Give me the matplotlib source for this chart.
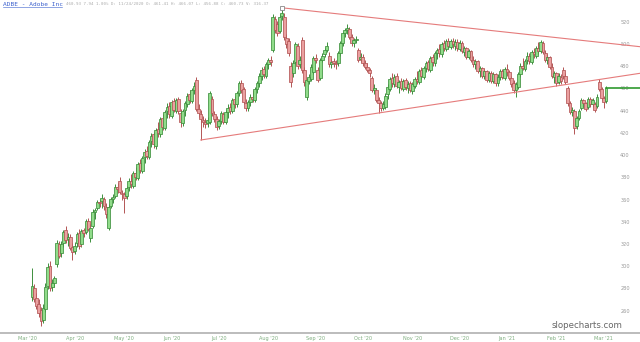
import numpy as np
import matplotlib
matplotlib.use('Agg')
import matplotlib.pyplot as plt
from matplotlib.lines import Line2D

# daily candles, ADBE Mar 2020 - Mar 2021
opens = [273, 281, 272, 266, 261, 252, 262, 283, 301, 282, 285, 302, 320, 312, 321, 333,
         325, 327, 318, 314, 321, 330, 320, 333, 331, 341, 326, 337, 349, 353, 358, 359,
         361, 354, 335, 355, 361, 364, 372, 377, 366, 365, 364, 372, 377, 373, 384, 380,
         393, 386, 399, 404, 399, 413, 419, 409, 424, 419, 434, 425, 440, 445, 436, 449,
         440, 451, 438, 429, 441, 446, 455, 449, 459, 468, 442, 437, 432, 430, 429, 430,
         451, 437, 433, 427, 431, 437, 430, 439, 444, 440, 451, 446, 456, 465, 460, 447,
         443, 448, 453, 450, 460, 465, 472, 478, 472, 482, 486, 495, 523, 518, 512, 526,
         525, 506, 503, 481, 474, 484, 499, 482, 504, 477, 453, 467, 469, 475, 488, 477,
         470, 486, 491, 495, 490, 482, 485, 483, 483, 492, 501, 510, 513, 514, 507, 501,
         504, 495, 487, 489, 483, 480, 477, 470, 459, 459, 450, 447, 443, 444, 455, 460,
         470, 464, 472, 462, 467, 460, 468, 461, 465, 458, 463, 469, 466, 477, 471, 479,
         484, 477, 489, 483, 492, 496, 491, 501, 496, 503, 498, 503, 499, 502, 496, 501,
         493, 497, 489, 494, 486, 482, 485, 476, 479, 472, 476, 468, 474, 467, 473, 465,
         471, 476, 470, 478, 475, 470, 465, 459, 462, 473, 481, 478, 486, 490, 484, 493,
         490, 497, 494, 501, 492, 486, 489, 480, 471, 474, 466, 471, 477, 472, 461, 447,
         439, 440, 427, 434, 443, 450, 447, 444, 451, 446, 446, 445, 466, 460, 452, 449]
highs = [299, 284, 276, 271, 264, 266, 285, 303, 305, 289, 292, 324, 323, 323, 333, 337,
         330, 329, 321, 322, 331, 334, 334, 335, 343, 344, 338, 352, 353, 360, 361, 365,
         363, 357, 356, 363, 365, 374, 375, 381, 369, 367, 373, 380, 383, 386, 390, 394,
         397, 400, 406, 409, 414, 420, 421, 425, 430, 435, 437, 441, 447, 448, 450, 452,
         452, 453, 442, 442, 449, 456, 459, 461, 466, 471, 446, 441, 436, 434, 435, 458,
         454, 440, 436, 433, 440, 439, 441, 446, 447, 452, 454, 458, 467, 468, 462, 451,
         450, 455, 459, 462, 467, 474, 480, 481, 484, 488, 490, 527, 526, 521, 527, 533,
         528, 509, 506, 484, 486, 502, 501, 490, 507, 480, 470, 473, 482, 490, 491, 480,
         488, 492, 497, 502, 493, 487, 488, 486, 494, 503, 511, 515, 518, 516, 509, 506,
         508, 497, 492, 491, 486, 483, 479, 472, 464, 461, 453, 449, 449, 456, 464, 471,
         474, 473, 474, 468, 470, 469, 470, 467, 467, 466, 471, 476, 478, 480, 481, 485,
         486, 490, 491, 494, 497, 500, 502, 504, 505, 506, 505, 506, 505, 505, 504, 503,
         499, 498, 496, 495, 490, 487, 486, 481, 480, 478, 477, 476, 476, 475, 474, 473,
         478, 478, 480, 482, 477, 472, 468, 466, 475, 483, 488, 487, 493, 492, 495, 497,
         499, 502, 504, 503, 495, 491, 490, 483, 476, 475, 474, 473, 480, 474, 463, 449,
         444, 442, 436, 442, 452, 451, 448, 453, 453, 452, 448, 455, 469, 462, 454, 463]
lows = [269, 268, 262, 255, 247, 249, 259, 280, 278, 278, 282, 300, 308, 309, 318, 321,
        319, 315, 306, 311, 318, 316, 318, 327, 329, 332, 322, 335, 343, 351, 354, 353,
        351, 344, 333, 353, 357, 362, 366, 365, 360, 348, 361, 368, 371, 371, 378, 378,
        384, 384, 393, 397, 397, 408, 407, 406, 417, 417, 423, 423, 434, 434, 434, 439,
        438, 437, 426, 427, 436, 444, 447, 447, 455, 440, 435, 414, 426, 425, 426, 428,
        436, 430, 423, 424, 428, 428, 428, 434, 437, 438, 443, 444, 454, 456, 446, 440,
        440, 445, 448, 448, 456, 462, 468, 470, 470, 478, 481, 493, 510, 508, 510, 522,
        504, 497, 490, 462, 471, 482, 478, 479, 474, 463, 450, 464, 467, 473, 483, 466,
        468, 484, 489, 493, 480, 479, 480, 478, 481, 490, 499, 507, 509, 505, 499, 498,
        501, 484, 484, 481, 478, 475, 471, 457, 455, 448, 438, 440, 441, 442, 451, 458,
        462, 462, 461, 456, 459, 458, 459, 456, 457, 455, 461, 464, 464, 469, 469, 475,
        476, 475, 481, 481, 487, 489, 489, 494, 494, 496, 496, 497, 495, 494, 494, 492,
        490, 487, 487, 484, 480, 478, 474, 471, 470, 469, 466, 466, 465, 465, 463, 463,
        468, 469, 468, 472, 468, 462, 456, 453, 460, 471, 477, 476, 482, 482, 482, 488,
        488, 491, 492, 491, 484, 482, 478, 470, 465, 463, 464, 464, 469, 464, 445, 437,
        436, 419, 424, 432, 441, 444, 440, 442, 444, 444, 439, 443, 458, 450, 443, 447]
closes = [283, 271, 265, 258, 251, 263, 282, 300, 281, 285, 290, 321, 310, 320, 331, 324,
          327, 317, 313, 319, 329, 319, 332, 330, 341, 334, 335, 349, 351, 358, 357, 362,
          355, 347, 354, 361, 363, 372, 370, 367, 365, 362, 371, 377, 374, 384, 381, 392,
          387, 398, 403, 400, 412, 418, 410, 423, 420, 433, 426, 439, 444, 437, 448, 441,
          450, 440, 430, 440, 447, 454, 450, 459, 463, 442, 438, 433, 430, 428, 432, 456,
          438, 433, 426, 431, 438, 430, 439, 443, 440, 450, 446, 456, 465, 459, 448, 443,
          448, 453, 451, 460, 465, 472, 477, 473, 482, 486, 484, 525, 513, 510, 525, 528,
          507, 500, 492, 466, 483, 500, 481, 486, 477, 466, 468, 471, 480, 488, 486, 468,
          486, 490, 495, 499, 482, 484, 483, 482, 492, 501, 510, 513, 515, 507, 501, 504,
          505, 486, 489, 483, 480, 477, 474, 459, 461, 450, 447, 443, 446, 454, 462, 469,
          465, 471, 463, 466, 461, 467, 462, 464, 459, 464, 469, 467, 476, 472, 479, 483,
          478, 488, 484, 492, 495, 492, 500, 497, 503, 499, 503, 500, 502, 497, 501, 494,
          497, 489, 494, 486, 482, 485, 476, 479, 472, 476, 468, 474, 467, 473, 465, 471,
          476, 471, 478, 475, 470, 464, 459, 464, 473, 481, 479, 485, 490, 485, 493, 491,
          497, 494, 502, 493, 486, 489, 480, 472, 474, 465, 472, 467, 472, 466, 447, 439,
          441, 425, 434, 440, 450, 447, 442, 451, 446, 450, 441, 453, 460, 452, 448, 461]

month_pos = [-2, 19, 41, 62, 83, 105, 126, 147, 169, 190, 211, 233, 254]
month_labels = ["Mar '20", "Apr '20", "May '20", "Jun '20", "Jul '20", "Aug '20", "Sep '20",
                "Oct '20", "Nov '20", "Dec '20", "Jan '21", "Feb '21", "Mar '21"]
price_ticks = [260, 280, 300, 320, 340, 360, 380, 400, 420, 440, 460, 480, 500, 520]

# trend lines drawn on the chart: (bar index, price) endpoints
upper_line = ([111, 270], [533, 498])
lower_line = ([75, 270], [414, 474])
last_price = 460.93

o = np.array(opens, float)
h = np.array(highs, float)
l = np.array(lows, float)
c = np.array(closes, float)
idx = np.arange(len(c))
up = c >= o

fill = np.where(up, '#90dc8a', '#eba0a0')
edge = np.where(up, '#3d8f3d', '#b35555')

fig = plt.figure(figsize=(6.4, 3.42), dpi=100)
ax = fig.add_axes([0, 9 / 342, 1, 333 / 342])
ax.set_xlim(-14.2, 270.1)
ax.set_ylim(240.3, 540)

ax.vlines(idx, l, h, colors=edge, linewidth=0.7, zorder=2)
body = np.maximum(np.abs(c - o), 1.0)
ax.bar(idx, body, bottom=np.minimum(o, c), width=1.25, color=fill,
       edgecolor=edge, linewidth=0.55, zorder=3)

ax.plot(*upper_line, color='#e57b7b', linewidth=0.8, zorder=4)
ax.plot(*lower_line, color='#e57b7b', linewidth=0.8, zorder=4)
ax.plot(upper_line[0][0], upper_line[1][0], marker='s', markersize=3,
        mfc='white', mec='#888888', mew=0.6, zorder=5)
ax.plot([idx[-1], 270.1], [last_price, last_price], color='#2f9a2f', linewidth=1.2, zorder=4)

for s in ['top', 'left', 'right']:
    ax.spines[s].set_visible(False)
ax.spines['bottom'].set_color('#b0b0b0')
ax.spines['bottom'].set_linewidth(1.2)

ax.set_xticks(month_pos)
ax.set_xticklabels(month_labels, fontsize=3.6, color='#7fae7f')
ax.tick_params(axis='x', length=0, pad=2)
ax.set_yticks([])
for p in price_ticks:
    ax.text(625 / 640, p, str(p), transform=ax.get_yaxis_transform(),
            ha='center', va='center', fontsize=3.6, color='#999999')

fig.text(622 / 640, 1 - 326 / 342, 'slopecharts.com', ha='right', va='center',
         fontsize=6.2, color='#666666')

fig.text(3 / 640, 1 - 4 / 342, 'ADBE - Adobe Inc', ha='left', va='center',
         fontsize=4.4, color='#3a5fcd', family='DejaVu Sans Mono')
fig.add_artist(Line2D([3 / 640, 62 / 640], [1 - 7 / 342, 1 - 7 / 342],
                      color='#3a5fcd', linewidth=0.4))
fig.text(66 / 640, 1 - 4 / 342,
         '460.93 7.94 1.00% D: 11/24/2020 O: 461.41 H: 466.07 L: 456.88 C: 460.73 V: 316.37',
         ha='left', va='center', fontsize=3.0, color='#aaaaaa', family='DejaVu Sans Mono')

fig.savefig('out.png', dpi=100, facecolor='white')
